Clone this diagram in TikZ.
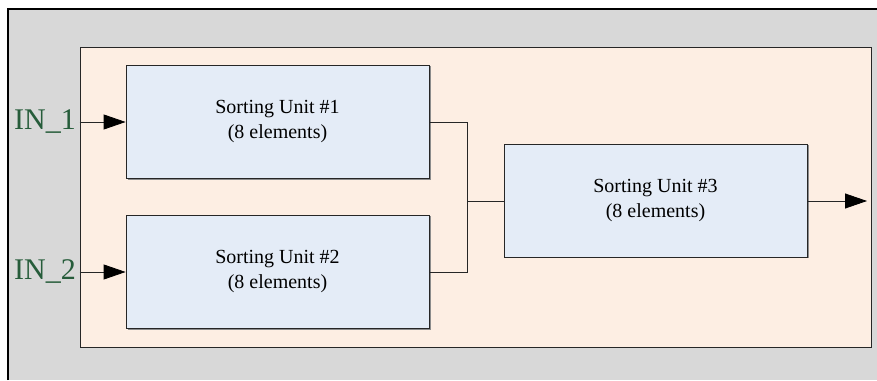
\documentclass[tikz,border=0pt]{standalone}
\usepackage{fontspec}
\setmainfont{Liberation Serif}
\usetikzlibrary{arrows.meta,calc}
\definecolor{panelgray}{RGB}{216,216,216}
\definecolor{framefill}{RGB}{253,238,227}
\definecolor{unitfill}{RGB}{228,236,247}
\definecolor{labelgreen}{RGB}{38,92,58}
\tikzset{
  x=1pt, y=1pt,
  unitbox/.style={draw=black!85, line width=0.8pt, fill=unitfill,
    minimum width=303pt, minimum height=113pt, inner sep=0pt,
    align=center, font=\fontsize{20}{25}\selectfont},
  wire/.style={draw=black!85, line width=0.8pt},
  flow/.style={wire, -{Triangle[length=22pt,width=15pt,color=black,fill=black]}},
  inlabel/.style={text=labelgreen, font=\fontsize{30}{30}\selectfont, inner sep=0pt}
}
\begin{document}
\begin{tikzpicture}
\useasboundingbox (0,0) rectangle (877,380);
% grey panel with heavy top and left border
\fill[panelgray] (8,0) rectangle (877,371);
\draw[line width=2pt, black] (8,0) -- (8,371) -- (877,371);
% enclosing frame with slight shadow
\fill[black!50] (81,32) rectangle (872,332);
\node[draw=black!85, line width=0.8pt, fill=framefill, minimum width=791pt, minimum height=300pt, inner sep=0pt] (frame) at (475.5,183) {};
% unit shadows
\fill[black!45] (127.5,200) rectangle (430.5,313.5);
\fill[black!45] (127.5,50.5) rectangle (430.5,163.5);
\fill[black!45] (505.5,121.5) rectangle (808.5,234.5);
% sorting units
\node[unitbox] (u1) at (277.5,258) {Sorting Unit \#1\\(8 elements)};
\node[unitbox] (u2) at (277.5,108) {Sorting Unit \#2\\(8 elements)};
\node[unitbox] (u3) at (655.5,179) {Sorting Unit \#3\\(8 elements)};
% input labels
\node[inlabel] (in1) at (45,258) {IN\_1};
\node[inlabel] (in2) at (45,108) {IN\_2};
% connectors
\coordinate (j) at (467,179);
\coordinate (out) at (867,179);
\draw[flow] (frame.west |- u1.west) -- (u1.west);
\draw[flow] (frame.west |- u2.west) -- (u2.west);
\draw[wire] (u1.east) -| (j) -- (u3.west);
\draw[wire] (u2.east) -| (j);
\draw[flow] (u3.east) -- (out);
\end{tikzpicture}
\end{document}
